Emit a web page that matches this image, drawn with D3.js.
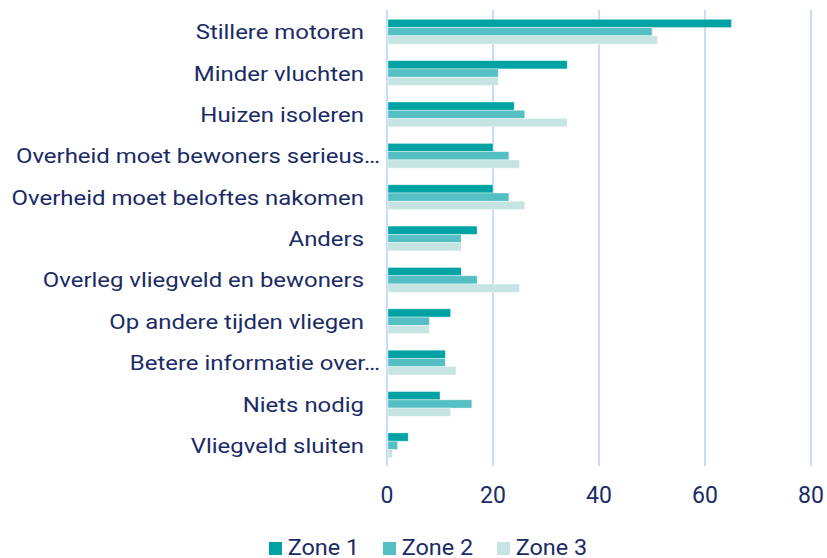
<!DOCTYPE html>
<html>
<head>
<meta charset="utf-8">
<script src="https://cdn.jsdelivr.net/npm/d3@7"></script>
<style>
  body { margin: 0; background: #fff; }
  text { font-family: Roboto, "Noto Sans", sans-serif; fill: #1a2b66; }
</style>
</head>
<body>
<div id="chart"></div>
<script>
// Categories, top to bottom
var categories = [
  "Stillere motoren",
  "Minder vluchten",
  "Huizen isoleren",
  "Overheid moet bewoners serieus…",
  "Overheid moet beloftes nakomen",
  "Anders",
  "Overleg vliegveld en bewoners",
  "Op andere tijden vliegen",
  "Betere informatie over…",
  "Niets nodig",
  "Vliegveld sluiten"
];

var seriesNames = ["Zone 1", "Zone 2", "Zone 3"];
var zone1 = [65, 34, 24, 20, 20, 17, 14, 12, 11, 10, 4];
var zone2 = [50, 21, 26, 23, 23, 14, 17, 8, 11, 16, 2];
var zone3 = [51, 21, 34, 25, 26, 14, 25, 8, 13, 12, 1];
var xTicks = [0, 20, 40, 60, 80];

var width = 827,
  height = 558,
  margin = { top: 11, right: 16, bottom: 92, left: 387 },
  colors = ["#00a3a3", "#55bfc4", "#c6e5e2"],
  series = [zone1, zone2, zone3],
  labelStretch = 1.14;

var svg = d3.select("#chart").append("svg")
  .attr("width", width)
  .attr("height", height);

var x = d3.scaleLinear()
  .domain([0, 80])
  .range([margin.left, 811]);

var y = d3.scaleBand()
  .domain(categories)
  .range([margin.top, height - margin.bottom])
  .paddingInner(0.4)
  .paddingOuter(0.2);

var ySub = d3.scaleBand()
  .domain(seriesNames)
  .range([0, y.bandwidth()]);

// Gridlines
svg.append("g")
  .selectAll("line")
  .data(xTicks)
  .enter().append("line")
  .attr("x1", d => x(d))
  .attr("x2", d => x(d))
  .attr("y1", margin.top - 1)
  .attr("y2", height - margin.bottom)
  .attr("stroke", "#c6dcf8")
  .attr("stroke-width", 2);

// Bars
var groups = svg.append("g")
  .selectAll("g")
  .data(categories)
  .enter().append("g")
  .attr("transform", d => "translate(0," + y(d) + ")");

groups.selectAll("rect")
  .data((d, i) => series.map((s, j) => ({ name: seriesNames[j], value: s[i], j: j })))
  .enter().append("rect")
  .attr("x", x(0) + 1)
  .attr("y", d => ySub(d.name))
  .attr("width", d => x(d.value) - x(0) - 1)
  .attr("height", ySub.bandwidth())
  .attr("fill", d => colors[d.j])
  .attr("stroke", "#ffffff")
  .attr("stroke-opacity", 0.5)
  .attr("stroke-width", 0.75);

// Category labels (slightly wide lettering, as in the original)
svg.append("g")
  .attr("transform", "scale(" + labelStretch + ",1)")
  .selectAll("text")
  .data(categories)
  .enter().append("text")
  .attr("x", d => (d.endsWith("…") ? 380 : 364) / labelStretch)
  .attr("y", d => y(d) + y.bandwidth() / 2)
  .attr("dy", "0.36em")
  .attr("text-anchor", "end")
  .style("font-size", "21px")
  .text(d => d);

// X tick labels
svg.append("g")
  .selectAll("text")
  .data(xTicks)
  .enter().append("text")
  .attr("x", d => x(d))
  .attr("y", 503)
  .attr("text-anchor", "middle")
  .style("font-size", "23px")
  .text(d => d);

// Legend
var legendX = [269, 383, 497];
var legend = svg.append("g")
  .selectAll("g")
  .data(seriesNames)
  .enter().append("g")
  .attr("transform", (d, i) => "translate(" + legendX[i] + ",0)");

legend.append("rect")
  .attr("x", 0)
  .attr("y", 542)
  .attr("width", 13)
  .attr("height", 13)
  .attr("fill", (d, i) => colors[i]);

legend.append("text")
  .attr("x", 18)
  .attr("y", 555)
  .attr("transform", "scale(1.04,1)")
  .style("font-size", "22.5px")
  .text(d => d);
</script>
</body>
</html>
